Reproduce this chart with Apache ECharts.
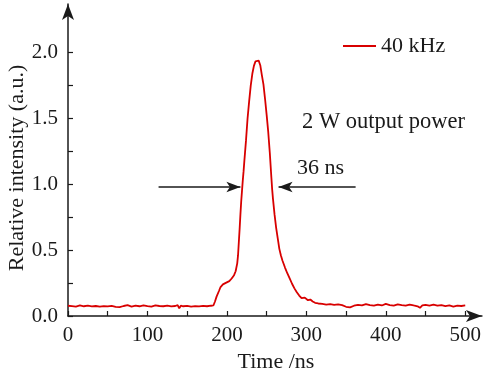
<!DOCTYPE html>
<html>
<head>
<meta charset="utf-8">
<script src="https://cdn.jsdelivr.net/npm/echarts@6/dist/echarts.min.js"></script>
<style>html,body{margin:0;padding:0;background:#fff}#c{width:484px;height:376px}</style>
</head>
<body>
<div id="c"></div>
<script>
var seriesName = '40 kHz';
var timeNs = [0,5,10,15,20,25,30,35,40,45,50,55,60,65,70,75,80,85,90,95,100,105,110,115,120,125,130,135,138,140,142,145,150,155,160,165,170,175,180,183,
185,187,190,192,195,198,200,203,206,209,211,213,214,215,216,217,218,219,220,221,222,224,226,228,230,232,234,236,238,240,242,244,246,248,250,252,254,256,257,258,260,262,264,266,268,270,273,276,279,282,285,288,291,294,296,298,300,302,305,308,311,315,320,325,330,335,340,345,350,355,360,365,370,375,380,385,390,395,400,405,410,415,420,425,430,435,440,443,446,450,455,460,465,470,475,480,485,490,495,500];
var intensity = [0.078,0.075,0.072,0.080,0.074,0.078,0.073,0.076,0.071,0.075,0.073,0.077,0.070,0.068,0.076,0.082,0.072,0.079,0.074,0.081,0.075,0.072,0.080,0.076,0.074,0.079,0.073,0.076,0.082,0.058,0.078,0.074,0.077,0.072,0.075,0.073,0.077,0.074,0.078,0.080,
0.11,0.147,0.19,0.22,0.24,0.25,0.252,0.265,0.285,0.31,0.34,0.40,0.46,0.56,0.66,0.77,0.87,0.95,1.03,1.10,1.18,1.33,1.50,1.63,1.75,1.84,1.90,1.935,1.95,1.94,1.905,1.83,1.76,1.65,1.53,1.40,1.24,1.05,0.96,0.89,0.77,0.67,0.59,0.51,0.46,0.42,0.37,0.325,0.285,0.245,0.21,0.18,0.155,0.135,0.125,0.14,0.13,0.12,0.125,0.11,0.10,0.095,0.092,0.087,0.090,0.085,0.088,0.082,0.070,0.065,0.078,0.085,0.080,0.090,0.082,0.078,0.086,0.080,0.092,0.083,0.079,0.088,0.082,0.078,0.087,0.080,0.074,0.062,0.080,0.085,0.079,0.086,0.078,0.083,0.075,0.080,0.072,0.079,0.076,0.080];
var xTickValues = [0,50,100,150,200,250,300,350,400,450,500];
var xLabelValues = [0,100,200,300,400,500];
var yTickValues = [0,0.25,0.5,0.75,1.0,1.25,1.5,1.75,2.0];
var yLabelValues = [0,0.5,1.0,1.5,2.0];
var fwhmLevel = 0.98;
var leftArrow = [114, 217];
var rightArrow = [362, 265];

var data = timeNs.map(function(t,i){return [t,intensity[i]];});
var font = 'Liberation Serif';
var ink = '#1a1a1a';
var chart = echarts.init(document.getElementById('c'), null, {renderer:'canvas'});
chart.setOption({
  animation:false,
  grid:{left:68,right:2,top:4,bottom:60,containLabel:false},
  legend:{
    data:[seriesName],left:338,top:30,itemWidth:33,itemHeight:2,itemGap:8,
    textStyle:{fontFamily:font,fontSize:22,color:ink},
    icon:'rect'
  },
  xAxis:{
    type:'value',min:0,max:521,
    axisLine:{show:true,symbol:['none','arrow'],symbolSize:[9,16],lineStyle:{color:ink,width:1.5}},
    axisTick:{show:true,inside:true,length:5,customValues:xTickValues,lineStyle:{color:ink,width:1.2}},
    axisLabel:{customValues:xLabelValues,margin:9,fontFamily:font,fontSize:21,color:ink},
    splitLine:{show:false}
  },
  yAxis:{
    type:'value',min:0,max:2.37,
    axisLine:{show:true,symbol:['none','arrow'],symbolSize:[9,16],lineStyle:{color:ink,width:1.5}},
    axisTick:{show:true,inside:true,length:5,customValues:yTickValues,lineStyle:{color:ink,width:1.2}},
    axisLabel:{customValues:yLabelValues,margin:10,fontFamily:font,fontSize:21,color:ink,
      formatter:function(v){return v.toFixed(1);}},
    splitLine:{show:false}
  },
  graphic:[
    {type:'text',x:17,y:168,rotation:Math.PI/2,style:{text:'Relative intensity (a.u.)',fontFamily:font,fontSize:22,fill:ink,align:'center',verticalAlign:'middle'}},
    {type:'text',x:276,y:362,style:{text:'Time /ns',fontFamily:font,fontSize:22,fill:ink,align:'center',verticalAlign:'middle'}},
    {type:'text',x:302,y:122,style:{text:'2 W output power',fontFamily:font,fontSize:22.5,fill:ink,align:'left',verticalAlign:'middle'}},
    {type:'text',x:297,y:168,style:{text:'36 ns',fontFamily:font,fontSize:22,fill:ink,align:'left',verticalAlign:'middle'}}
  ],
  series:[{
    name:seriesName,type:'line',data:data,showSymbol:false,symbol:'none',smooth:false,
    lineStyle:{color:'#d80000',width:1.8},itemStyle:{color:'#d80000'},
    markLine:{
      silent:true,symbol:['none','arrow'],symbolSize:[8,14],
      label:{show:false},
      lineStyle:{color:ink,width:1.5,type:'solid'},
      emphasis:{disabled:true},
      data:[
        [{coord:[leftArrow[0],fwhmLevel]},{coord:[leftArrow[1],fwhmLevel]}],
        [{coord:[rightArrow[0],fwhmLevel]},{coord:[rightArrow[1],fwhmLevel]}]
      ]
    }
  }]
});
</script>
</body>
</html>
